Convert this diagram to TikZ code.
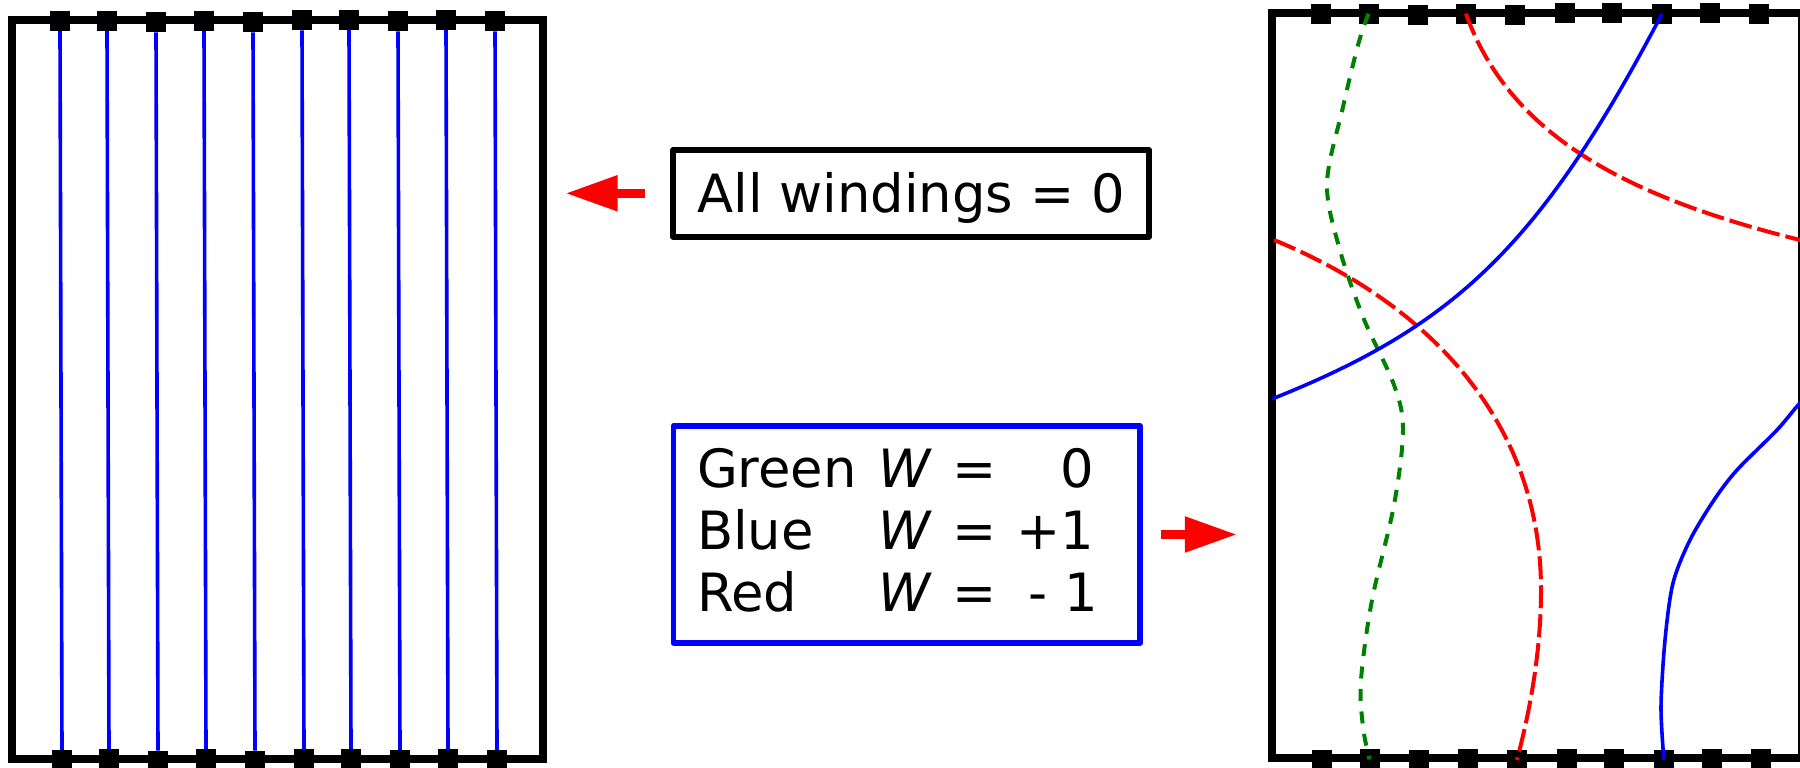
\documentclass[tikz,border=0pt]{standalone}
\usepackage{fontspec}
\setmainfont{DejaVu Sans}
\usetikzlibrary{arrows.meta}
\definecolor{wblue}{RGB}{0,0,255}
\definecolor{wred}{RGB}{255,0,0}
\definecolor{wgreen}{RGB}{0,128,0}
\begin{document}
\begin{tikzpicture}[x=0.01cm,y=-0.01cm,
  every node/.style={outer sep=0pt},
  frame/.style={draw=black, line width=0.08cm, inner sep=0pt},
  pin/.style={fill=black, inner sep=0pt, minimum size=0.2cm},
  wire/.style={wblue, line width=0.036cm},
  loopblue/.style={wblue, line width=0.036cm},
  loopred/.style={wred, line width=0.04cm, dash pattern=on 0.23cm off 0.06cm},
  loopgreen/.style={wgreen, line width=0.04cm, dash pattern=on 0.12cm off 0.105cm},
  pointer/.style={wred, line width=0.085cm, -{Triangle[length=0.52cm, width=0.34cm]}},
  txt/.style={font=\fontsize{15pt}{17.6pt}\selectfont},
  labelbox/.style={txt, draw=black, line width=0.055cm, line join=round, inner sep=0pt,
    minimum width=4.755cm, minimum height=0.87cm, text height=0.48cm, text depth=0.1cm},
  legendbox/.style={draw=wblue, line width=0.055cm, line join=round, inner sep=0pt,
    minimum width=4.664cm, minimum height=2.17cm},
]
\useasboundingbox (0,0) rectangle (1800,768);
\clip (0,0) rectangle (1800,768);

% ---- left strip: all straight strands ----
\node[frame, minimum width=5.305cm, minimum height=7.39cm] (leftpanel) at (277.25,389.5) {};
\foreach \x/\y [count=\i] in {60/21, 107/21, 156/22.3, 204/21, 253/22.3,
                              302/20.3, 349/20, 398/21.3, 446/20, 495/21.3}
  \node[pin] (lt\i) at (\x,\y) {};
\foreach \x/\y [count=\i] in {62/760, 109/759, 158/760.7, 206/759, 255/760.7,
                              304/759, 351/759, 400/760, 448/759, 497/760}
  \node[pin] (lb\i) at (\x,\y) {};
\foreach \i in {1,...,10}
  \draw[wire] (lt\i.south) -- (lb\i.north);

% ---- right strip: winding strands ----
\node[frame, minimum width=5.30cm, minimum height=7.445cm] (rightpanel) at (1537,385.75) {};
\foreach \x/\y [count=\i] in {1320.6/14.3, 1368.5/13.7, 1417.7/15, 1465.9/13.7, 1515.2/15,
                              1564.8/13.5, 1612.3/12.8, 1661.9/14, 1710/12.8, 1759.3/14}
  \node[pin] (rt\i) at (\x,\y) {};
\foreach \x/\y [count=\i] in {1322.3/760, 1369.5/759.5, 1419.4/760, 1467.6/759.5, 1516.9/760,
                              1566.5/759.5, 1614.3/759, 1663.9/760, 1711.8/759, 1761.4/759.5}
  \node[pin] (rb\i) at (\x,\y) {};

\coordinate (blueAin) at (1272,399);
\coordinate (blueBout) at (1830,373);
\coordinate (redAin) at (1274,240);
\coordinate (redBout) at (1802,240.5);

% green strand, W = 0
\draw[loopgreen] plot[smooth, tension=0.55] coordinates {(rt2.center) (1358,45) (1343,107)
  (1327,183) (1339,247) (1363,317) (1394,385) (1403,430) (1394,505) (1372,600) (1361,680)
  (1363,727) (rb2.center)};
% red strands, W = -1
\draw[loopred] (rt4.center) .. controls (1512,142) and (1639,200) .. (redBout);
\draw[loopred] (redAin) .. controls (1427,303) and (1541,420) .. (1541,590)
  .. controls (1541,650) and (1530.5,709) .. (rb5.center);
% blue strands, W = +1
\draw[loopblue] (blueAin) .. controls (1455,326) and (1540,246) .. (rt8.center);
\draw[loopblue] plot[smooth, tension=0.5] coordinates {(rb8.center) (1661,707) (1665,640)
  (1673,583) (1690,540) (1714,500) (1737,470) (1777,430) (1800,403) (blueBout)};

% ---- labels ----
\node[labelbox] (allw) at (911,193.3) {All windings = 0};
\node[legendbox] (legend) at (906.8,534.5) {};
\node[txt, anchor=base west, inner sep=0pt] (legendtext) at (697,488) {%
  \begin{tabular}[t]{@{}l@{\hspace{0.22cm}}l@{\hspace{0.2cm}}l@{\hspace{0.2cm}}l@{}}
  Green & \textit{W} & = & \phantom{+}0\\
  Blue  & \textit{W} & = & +1\\
  Red   & \textit{W} & = & \hspace{0.12cm}-\hspace{0.17cm}1
  \end{tabular}};

% ---- pointers ----
\draw[pointer, shorten <=0.285cm, shorten >=0.23cm] (allw.west) -- (allw.west -| leftpanel.east);
\draw[pointer, shorten <=0.21cm, shorten >=0.35cm] (legend.east) -- (legend.east -| rightpanel.west);
\end{tikzpicture}
\end{document}
